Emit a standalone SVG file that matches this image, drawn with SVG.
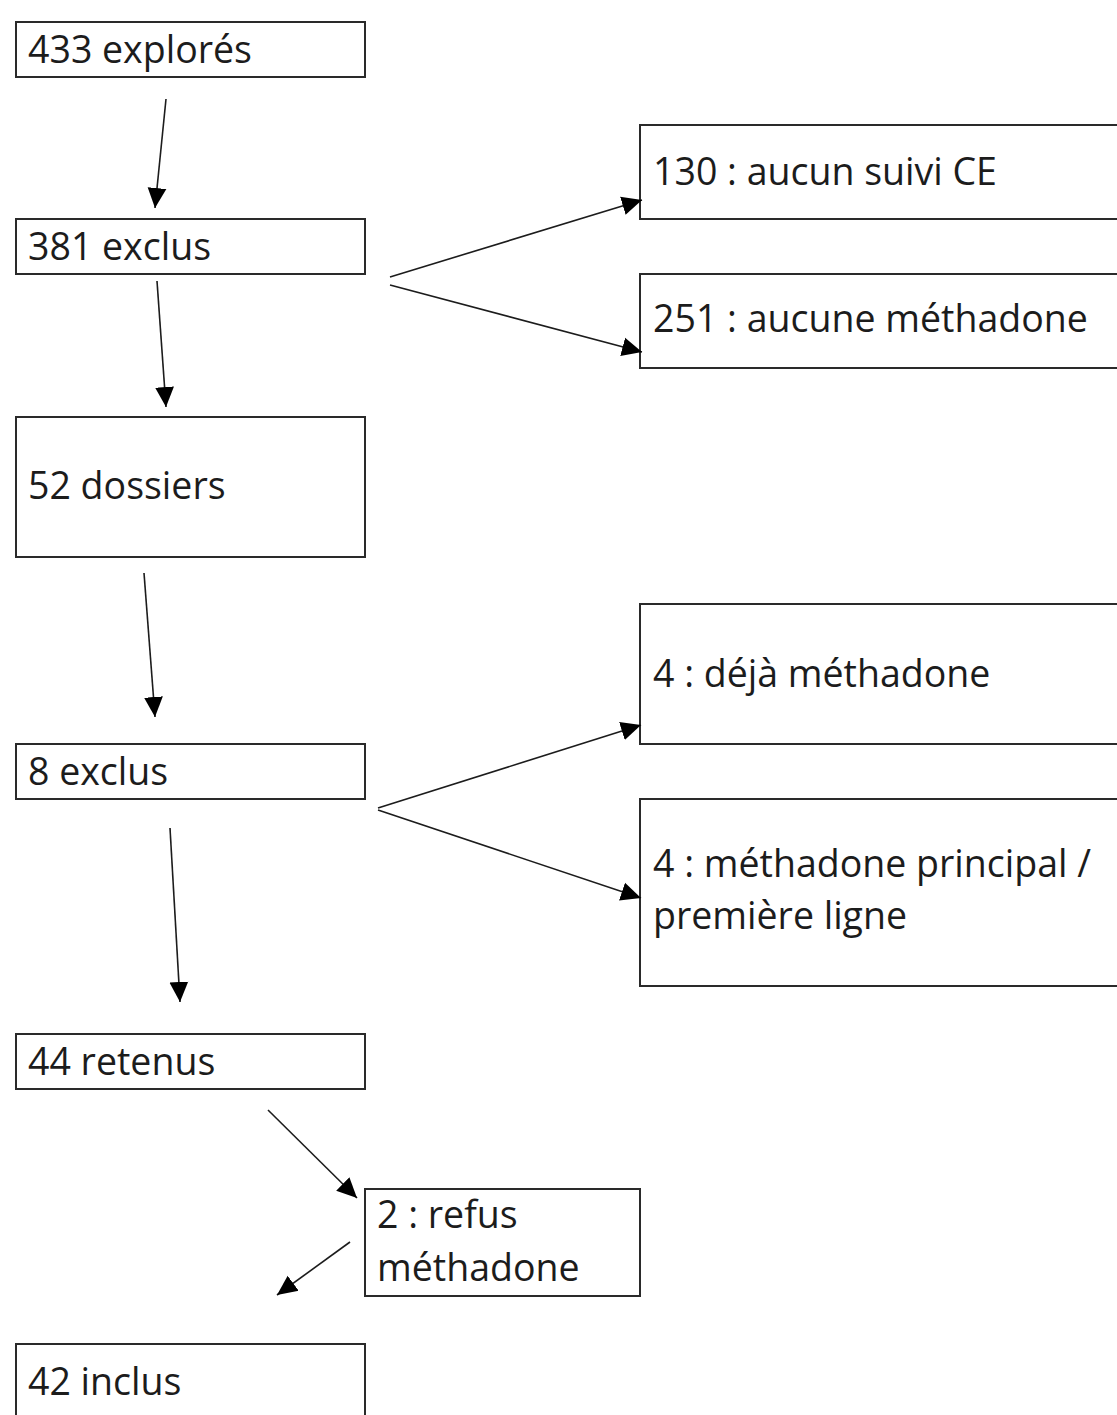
<svg xmlns="http://www.w3.org/2000/svg" width="1117" height="1415" viewBox="0 0 1117 1415">
<style>
.box{fill:#ffffff;stroke:#2a2a2a;stroke-width:2}
.lbl{font-family:"Open Sans","Noto Sans",sans-serif;font-size:37.5px;fill:#1c1c1c}
.edge{fill:none;stroke:#1c1c1c;stroke-width:1.6}
</style>
<defs>
<marker id="arr" markerUnits="userSpaceOnUse" markerWidth="20" markerHeight="20" viewBox="0 0 17 16" refX="17" refY="8" orient="auto">
<path d="M0,0 L17,8 L0,16 Z" fill="#000"/>
</marker>
</defs>
<rect width="1117" height="1415" fill="#ffffff"/>
<g id="n1"><rect class="box" x="16" y="22" width="349" height="55"/><text class="lbl" x="28" y="63">433 explorés</text></g>
<g id="n2"><rect class="box" x="16" y="219" width="349" height="55"/><text class="lbl" x="28" y="260">381 exclus</text></g>
<g id="n3"><rect class="box" x="640" y="125" width="500" height="94"/><text class="lbl" x="653" y="185">130 : aucun suivi CE</text></g>
<g id="n4"><rect class="box" x="640" y="274" width="500" height="94"/><text class="lbl" x="653" y="332">251 : aucune méthadone</text></g>
<g id="n5"><rect class="box" x="16" y="417" width="349" height="140"/><text class="lbl" x="28" y="499">52 dossiers</text></g>
<g id="n6"><rect class="box" x="640" y="604" width="500" height="140"/><text class="lbl" x="653" y="687">4 : déjà méthadone</text></g>
<g id="n7"><rect class="box" x="16" y="744" width="349" height="55"/><text class="lbl" x="28" y="785">8 exclus</text></g>
<g id="n8"><rect class="box" x="640" y="799" width="500" height="187"/><text class="lbl" x="653" y="877">4 : méthadone principal /</text><text class="lbl" x="653" y="929">première ligne</text></g>
<g id="n9"><rect class="box" x="16" y="1034" width="349" height="55"/><text class="lbl" x="28" y="1075">44 retenus</text></g>
<g id="n10"><rect class="box" x="365" y="1189" width="275" height="107"/><text class="lbl" x="377" y="1228">2 : refus</text><text class="lbl" x="377" y="1281">méthadone</text></g>
<g id="n11"><rect class="box" x="16" y="1344" width="349" height="90"/><text class="lbl" x="28" y="1395">42 inclus</text></g>
<g id="connectors">
<path class="edge" d="M166,99 L155,208" marker-end="url(#arr)"/>
<path class="edge" d="M157,281 L166,407" marker-end="url(#arr)"/>
<path class="edge" d="M390,277 L642,200" marker-end="url(#arr)"/>
<path class="edge" d="M390,285 L642,352" marker-end="url(#arr)"/>
<path class="edge" d="M144,573 L155,717" marker-end="url(#arr)"/>
<path class="edge" d="M378,808 L641,725" marker-end="url(#arr)"/>
<path class="edge" d="M378,810 L641,898" marker-end="url(#arr)"/>
<path class="edge" d="M170,828 L180,1002" marker-end="url(#arr)"/>
<path class="edge" d="M268,1110 L357,1198" marker-end="url(#arr)"/>
<path class="edge" d="M350,1242 L277,1295" marker-end="url(#arr)"/>
</g>
</svg>
